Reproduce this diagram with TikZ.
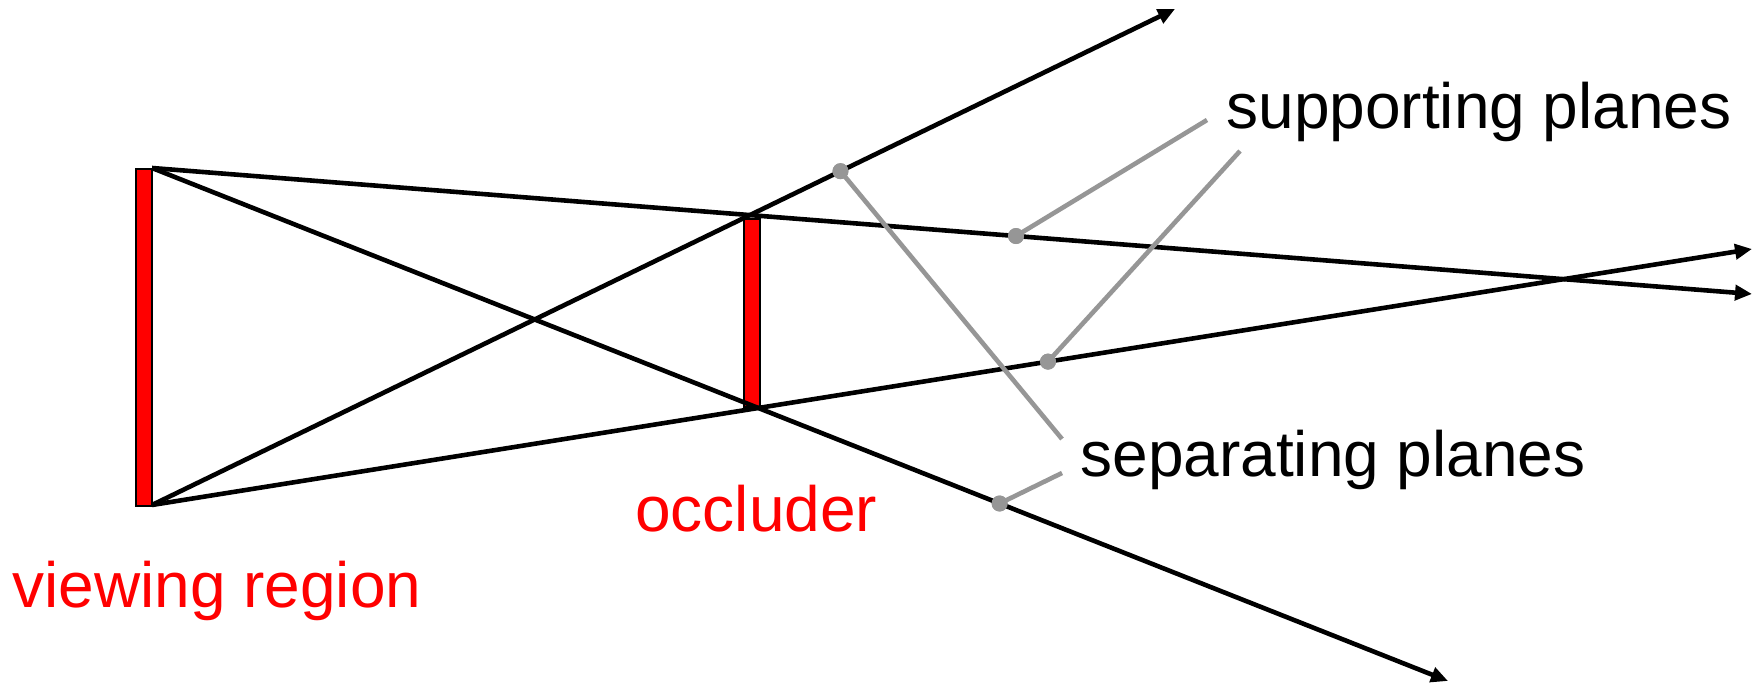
\documentclass[tikz,border=0pt]{standalone}
\usepackage{fontspec}
\setmainfont{Liberation Sans}
\usetikzlibrary{arrows.meta}
\definecolor{lead}{RGB}{150,150,150}
\tikzset{
  ray/.style={line width=2.3pt, -{Triangle[length=8.5pt, width=7.5pt]}},
  plane/.style={draw=black, fill=red, line width=1.2pt},
  leader/.style={draw=lead, line width=2.3pt},
  dot/.style={circle, fill=lead, inner sep=0pt, minimum size=8pt},
  lbl/.style={anchor=base west, inner sep=0pt, font=\fontsize{32}{38}\selectfont},
}

\begin{document}
\begin{tikzpicture}[x=0.5pt, y=-0.5pt]
    \useasboundingbox (0,0) rectangle (1760,683);
    % regions
    \filldraw[plane] (136,169) rectangle (152,506);
    \filldraw[plane] (744,219) rectangle (760,407);
    \coordinate (vt) at (152,168);
    \coordinate (vb) at (152,505);
    \coordinate (e1) at (1752,294);
    \coordinate (e2) at (1448,681);
    \coordinate (e3) at (1175,9);
    \coordinate (e4) at (1752,249);
    % planes
    \draw[ray] (vt) -- node[dot, pos=0.54] (s1) {} (e1);
    \draw[ray] (vt) -- node[dot, pos=0.654] (p2) {} (e2);
    \draw[ray] (vb) -- node[dot, pos=0.673] (p1) {} (e3);
    \draw[ray] (vb) -- node[dot, pos=0.56] (s2) {} (e4);
    % labels
    \node[lbl] (sup) at (1226,129) {supporting planes};
    \node[lbl] (sep) at (1080,477) {separating planes};
    \node[lbl, text=red] (occ) at (635,531) {occluder};
    \node[lbl, text=red] (vr) at (12,607) {viewing region};
    \coordinate (a1) at (1207,120);
    \coordinate (a2) at (1240,151);
    \coordinate (b1) at (1062,439);
    \coordinate (b2) at (1062,473);
    \draw[leader] (s1.center) -- (a1);
    \draw[leader] (s2.center) -- (a2);
    \draw[leader] (p1.center) -- (b1);
    \draw[leader] (p2.center) -- (b2);
    \foreach \d in {s1, s2, p1, p2}
      \node[dot] at (\d) {};
\end{tikzpicture}
\end{document}
